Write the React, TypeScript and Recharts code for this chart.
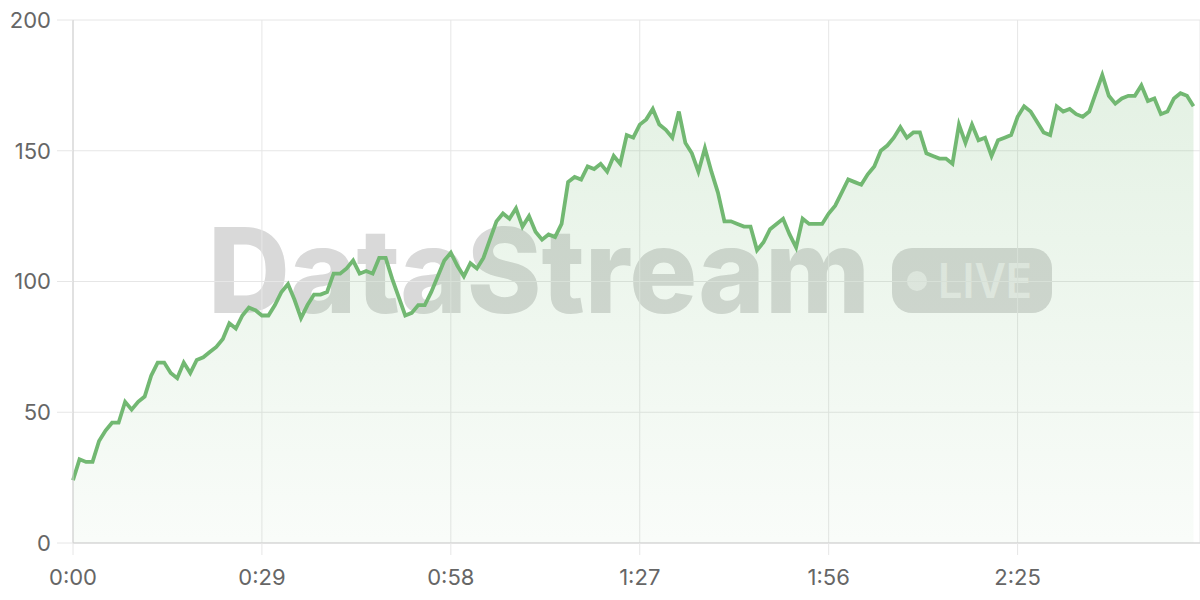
import React from 'react';
import { AreaChart, Area, XAxis, YAxis, CartesianGrid } from 'recharts';

// one reading per second
const firstMinute = [
  24, 32, 31, 31, 39, 43, 46, 46, 54, 51, 54, 56, 64, 69, 69, 65, 63, 69, 65, 70,
  71, 73, 75, 78, 84, 82, 87, 90, 89, 87, 87, 91, 96, 99, 93, 86, 91, 95, 95, 96,
  103, 103, 105, 108, 103, 104, 103, 109, 109, 101, 94, 87, 88, 91, 91, 96, 102, 108, 111, 106,
];
const secondMinute = [
  102, 107, 105, 109, 116, 123, 126, 124, 128, 121, 125, 119, 116, 118, 117, 122, 138, 140, 139, 144,
  143, 145, 142, 148, 145, 156, 155, 160, 162, 166, 160, 158, 155, 165, 153, 149, 142, 151, 142, 134,
  123, 123, 122, 121, 121, 112, 115, 120, 122, 124, 118, 113, 124, 122, 122, 122, 126, 129, 134, 139,
];
const thirdMinute = [
  138, 137, 141, 144, 150, 152, 155, 159, 155, 157, 157, 149, 148, 147, 147, 145, 160, 153, 160, 154,
  155, 148, 154, 155, 156, 163, 167, 165, 161, 157, 156, 167, 165, 166, 164, 163, 165, 172, 179, 171,
  168, 170, 171, 171, 175, 169, 170, 164, 165, 170, 172, 171, 167,
];

const xTicks = [0, 29, 58, 87, 116, 145];
const yTicks = [0, 50, 100, 150, 200];

const values = [...firstMinute, ...secondMinute, ...thirdMinute];
const data = values.map((v, i) => ({ t: i, value: v }));

const fmtTime = (s: number) => `${Math.floor(s / 60)}:${String(s % 60).padStart(2, '0')}`;

const axisTick = { fontSize: 22, fill: '#666', fontFamily: 'Inter, sans-serif' };

const Watermark = () => (
  <svg width={1200} height={600} style={{ position: 'absolute', left: 0, top: 0 }}>
    <text
      x={208}
      y={313}
      fontSize={118}
      fontWeight={800}
      fontFamily="Inter, sans-serif"
      fill="#d9d9d9"
      textLength={662}
      lengthAdjust="spacingAndGlyphs"
    >
      DataStream
    </text>
    <rect x={892} y={248} width={160} height={65} rx={20} fill="#d9d9d9" />
    <circle cx={917} cy={281} r={10} fill="#ececec" />
    <text
      x={938}
      y={298}
      fontSize={48}
      fontWeight={600}
      fontFamily="Inter, sans-serif"
      fill="#ececec"
      textLength={94}
      lengthAdjust="spacingAndGlyphs"
    >
      LIVE
    </text>
  </svg>
);

const App = () => {
  return (
    <div style={{ position: 'absolute', left: 0, top: 0, width: 1200, height: 600, background: '#fff' }}>
      <Watermark />
      <div style={{ position: 'absolute', left: 0, top: 0 }}>
        <AreaChart width={1200} height={600} data={data} margin={{ top: 20, right: 0, left: 0, bottom: 0 }}>
          <defs>
            <linearGradient id="fillGreen" x1="0" y1="0" x2="0" y2="1">
              <stop offset="0%" stopColor="#74b974" stopOpacity={0.33} />
              <stop offset="100%" stopColor="#74b974" stopOpacity={0.07} />
            </linearGradient>
          </defs>
          <CartesianGrid stroke="#e6e6e6" />
          <XAxis
            dataKey="t"
            type="number"
            domain={[0, 173]}
            ticks={xTicks}
            tickFormatter={fmtTime}
            tick={axisTick}
            tickSize={12}
            tickMargin={14}
            tickLine={{ stroke: '#e6e6e6' }}
            axisLine={{ stroke: '#cfcfcf' }}
            height={57}
          />
          <YAxis
            domain={[0, 200]}
            ticks={yTicks}
            tick={axisTick}
            tickSize={16}
            tickMargin={6}
            tickLine={{ stroke: '#e6e6e6' }}
            axisLine={{ stroke: '#cfcfcf' }}
            width={73}
          />
          <Area
            type="linear"
            dataKey="value"
            stroke="#72b872"
            strokeWidth={3.8}
            fill="url(#fillGreen)"
            dot={false}
            activeDot={false}
            isAnimationActive={false}
          />
        </AreaChart>
      </div>
    </div>
  );
};

export default App;
